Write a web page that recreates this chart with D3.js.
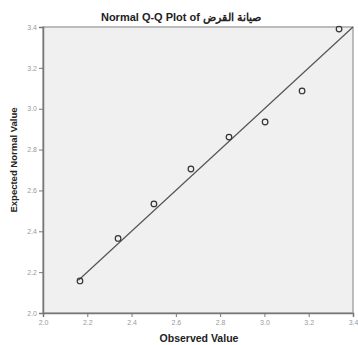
<!DOCTYPE html>
<html>
<head>
<meta charset="utf-8">
<script src="https://cdn.jsdelivr.net/npm/d3@7"></script>
<style>
  body { margin: 0; background: #fff; }
  text { font-family: "Liberation Sans", Arial, sans-serif; }
</style>
</head>
<body>
<div id="chart"></div>
<script>
// observed vs expected normal values
var observed = [2.167, 2.339, 2.501, 2.668, 2.84, 3.003, 3.17, 3.337];
var expected = [2.157, 2.365, 2.534, 2.705, 2.861, 2.935, 3.087, 3.39];
var tickValues = [2.0, 2.2, 2.4, 2.6, 2.8, 3.0, 3.2, 3.4];
var domain = [2.0, 3.4];

var width = 358, height = 345;
var plot = {x1: 43, x2: 353, y1: 27, y2: 313};

var x = d3.scaleLinear().domain(domain).range([plot.x1, plot.x2]);
var y = d3.scaleLinear().domain(domain).range([plot.y2, plot.y1]);

var svg = d3.select("#chart").append("svg")
    .attr("width", width).attr("height", height);

// plot background + frame
svg.append("rect").attr("x", plot.x1).attr("y", plot.y1)
    .attr("width", plot.x2 - plot.x1).attr("height", plot.y2 - plot.y1)
    .attr("fill", "#f0f0f0").attr("stroke", "#a8a8a8").attr("stroke-width", 1.5);

// axes
var xAxis = d3.axisBottom(x).tickValues(tickValues).tickSize(4).tickPadding(3)
    .tickFormat(d3.format(".1f"));
var yAxis = d3.axisLeft(y).tickValues(tickValues).tickSize(4).tickPadding(2)
    .tickFormat(d3.format(".1f"));

var gx = svg.append("g").attr("transform", "translate(0," + plot.y2 + ")").call(xAxis);
var gy = svg.append("g").attr("transform", "translate(" + plot.x1 + ",0)").call(yAxis);

[gx, gy].forEach(function(g) {
    g.select(".domain").attr("stroke", "#777").attr("stroke-width", 1.5);
    g.selectAll(".tick line").attr("stroke", "#777");
    g.selectAll(".tick text").attr("fill", "#9a9a9a").attr("font-size", 7)
        .attr("font-family", "Liberation Sans, Arial, sans-serif");
});

// reference line y = x
var lineData = [2.16, 3.4];
svg.append("line")
    .attr("x1", x(lineData[0])).attr("y1", y(lineData[0]))
    .attr("x2", x(lineData[1])).attr("y2", y(lineData[1]))
    .attr("stroke", "#555").attr("stroke-width", 1.2);

// points
svg.selectAll("circle.pt").data(observed).enter().append("circle")
    .attr("class", "pt")
    .attr("cx", function(d) { return x(d); })
    .attr("cy", function(d, i) { return y(expected[i]); })
    .attr("r", 2.8)
    .attr("fill", "none").attr("stroke", "#333").attr("stroke-width", 1.2);

// titles
svg.append("text").text("Normal Q-Q Plot of صيانة القرض")
    .attr("x", 181).attr("y", 21).attr("text-anchor", "middle")
    .attr("font-size", 11).attr("font-weight", "bold").attr("fill", "#222");

svg.append("text").text("Observed Value")
    .attr("x", 199).attr("y", 342).attr("text-anchor", "middle")
    .attr("font-size", 10.5).attr("font-weight", "bold").attr("fill", "#222");

svg.append("text").text("Expected Normal Value")
    .attr("transform", "translate(17,160) rotate(-90)")
    .attr("text-anchor", "middle")
    .attr("font-size", 9.5).attr("font-weight", "bold").attr("fill", "#222");
</script>
</body>
</html>
